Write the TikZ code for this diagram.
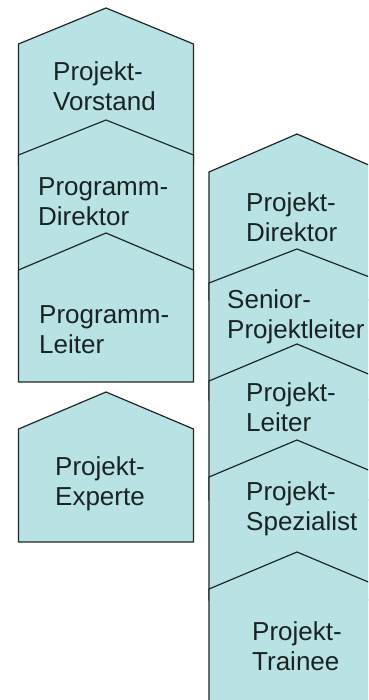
\documentclass[tikz,border=0pt]{standalone}
\usepackage{fontspec}
\setmainfont{Liberation Sans}

\definecolor{tilefill}{RGB}{184,226,228}
\definecolor{tileline}{RGB}{30,40,40}
\definecolor{tiletext}{RGB}{25,35,35}

\tikzset{
	tile/.style={fill=tilefill, draw=tileline, line width=1.2pt, line join=miter},
	rank/.style={anchor=west, inner sep=0pt, align=left, text=tiletext, font=\fontsize{26}{30}\selectfont}
}

\begin{document}
\begin{tikzpicture}[x=1pt, y=-1pt]
		
		\useasboundingbox (0,0) rectangle (368,700);
		\clip (0,0) rectangle (368,700);
		
		% left column, top down
		\foreach \a/\s/\b in {8/44/165, 120/155/280, 233/270/382, 392/429/542}
			\filldraw[tile] (106,\a) -- (193.5,\s) -- (193.5,\b) -- (18.5,\b) -- (18.5,\s) -- cycle;
		
		% right column, runs off the page
		\foreach \a/\s/\b in {134/172/300, 249/283/400, 344/381/500, 440/477/600, 552/589/720}
			\filldraw[tile] (297,\a) -- (385,\s) -- (385,\b) -- (209,\b) -- (209,\s) -- cycle;
		
		\node[rank] (vorstand) at (53,86.5) {Projekt-\\Vorstand};
		\node[rank] (progdir) at (38,201.5) {Programm-\\Direktor};
		\node[rank] (progleiter) at (39,329.5) {Programm-\\Leiter};
		\node[rank] (experte) at (55,484) {Projekt-\\Experte};
		
		\node[rank] (projdir) at (246,217.5) {Projekt-\\Direktor};
		\node[rank] (senior) at (227,317) {Senior-\\Projektleiter};
		\node[rank] (projleiter) at (246,407.5) {Projekt-\\Leiter};
		\node[rank] (spezialist) at (246,509) {Projekt-\\Spezialist};
		\node[rank] (trainee) at (252,646.5) {Projekt-\\Trainee};
		
	\end{tikzpicture}
\end{document}
